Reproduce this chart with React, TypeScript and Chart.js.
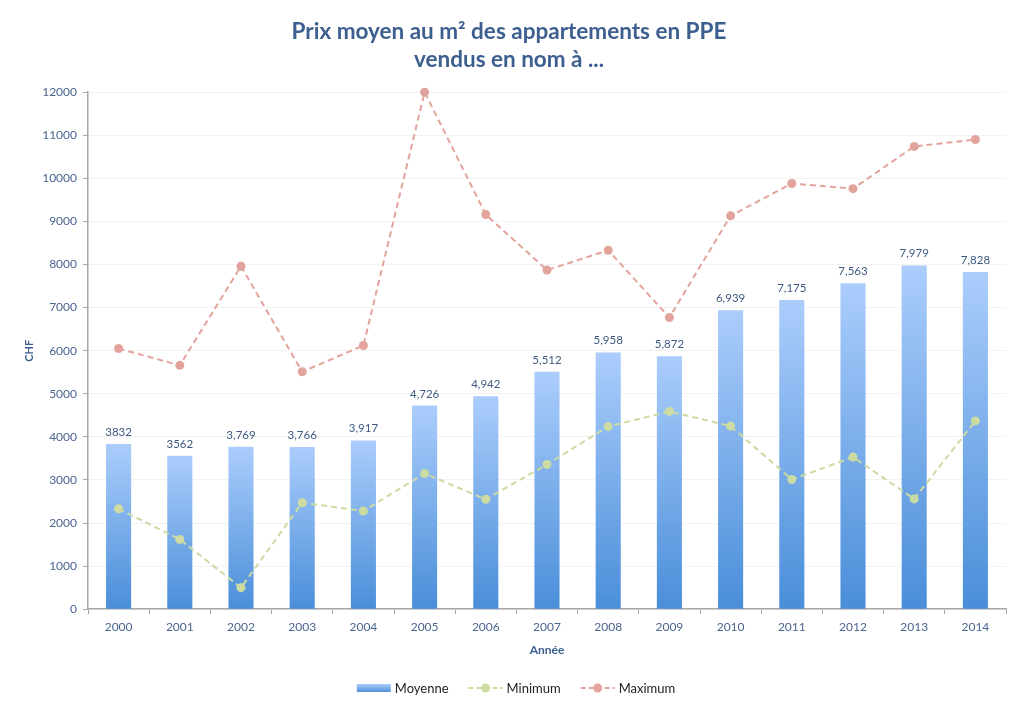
import { useEffect, useRef } from "react";
import { Chart, registerables } from "chart.js";

Chart.register(...registerables);

const years = ["2000", "2001", "2002", "2003", "2004", "2005", "2006", "2007", "2008", "2009", "2010", "2011", "2012", "2013", "2014"];
const moyenne = [3832, 3562, 3769, 3766, 3917, 4726, 4942, 5512, 5958, 5872, 6939, 7175, 7563, 7979, 7828];
const moyenneLabels = ["3832", "3562", "3,769", "3,766", "3,917", "4,726", "4,942", "5,512", "5,958", "5,872", "6,939", "7,175", "7,563", "7,979", "7,828"];
const minimum = [2330, 1620, 500, 2470, 2280, 3150, 2550, 3360, 4240, 4590, 4250, 3010, 3530, 2560, 4370];
const maximum = [6050, 5660, 7960, 5510, 6120, 12000, 9160, 7870, 8330, 6770, 9130, 9880, 9760, 10740, 10900];
const titleLines = ["Prix moyen au m² des appartements en PPE", "vendus en nom à ..."];

const FONT = "Lato, 'Open Sans', sans-serif";
const BLUE_TEXT = "#4a6590";
const MIN_COLOR = "#cbdba2";
const MAX_COLOR = "#e3a39d";

// value labels above the bars
const barLabels = {
  id: "barLabels",
  afterDatasetsDraw(chart: any) {
    const meta = chart.getDatasetMeta(2);
    const ctx = chart.ctx;
    ctx.save();
    ctx.font = "11.5px " + FONT;
    ctx.fillStyle = "#3d5a80";
    ctx.textAlign = "center";
    ctx.textBaseline = "bottom";
    meta.data.forEach((bar: any, i: number) => {
      ctx.fillText(moyenneLabels[i], bar.x, bar.y - 6);
    });
    ctx.restore();
  },
};

// legend drawn by hand: bar swatch, then two dashed lines with a dot
const bottomLegend = {
  id: "bottomLegend",
  afterDraw(chart: any) {
    const ctx = chart.ctx;
    const y = chart.height - 23;
    ctx.save();
    ctx.font = "13px " + FONT;
    ctx.textBaseline = "middle";
    const items = [
      { text: "Moyenne", kind: "bar", color: "" },
      { text: "Minimum", kind: "line", color: MIN_COLOR },
      { text: "Maximum", kind: "line", color: MAX_COLOR },
    ];
    const sym = 34;
    const gapIn = 4;
    const gapOut = 20;
    let total = 0;
    items.forEach((it, i) => {
      total += sym + gapIn + ctx.measureText(it.text).width + (i < items.length - 1 ? gapOut : 0);
    });
    let x = chart.width / 2 - total / 2 + 4;
    items.forEach((it) => {
      if (it.kind === "bar") {
        const g = ctx.createLinearGradient(0, y - 4, 0, y + 4);
        g.addColorStop(0, "#a9cbfa");
        g.addColorStop(1, "#4f92db");
        ctx.fillStyle = g;
        ctx.fillRect(x, y - 4, sym, 8);
      } else {
        ctx.strokeStyle = it.color;
        ctx.lineWidth = 2;
        ctx.setLineDash([5, 3]);
        ctx.beginPath();
        ctx.moveTo(x, y);
        ctx.lineTo(x + sym, y);
        ctx.stroke();
        ctx.setLineDash([]);
        ctx.fillStyle = it.color;
        ctx.beginPath();
        ctx.arc(x + sym / 2, y, 4.5, 0, Math.PI * 2);
        ctx.fill();
      }
      x += sym + gapIn;
      ctx.fillStyle = "#222222";
      ctx.fillText(it.text, x, y + 1);
      x += ctx.measureText(it.text).width + gapOut;
    });
    ctx.restore();
  },
};

function barGradient(context: any) {
  const chart = context.chart;
  const { chartArea, scales } = chart;
  if (!chartArea || !scales.y) return "#7aaee8";
  const v = moyenne[context.dataIndex] ?? 0;
  const top = scales.y.getPixelForValue(v);
  const bottom = scales.y.getPixelForValue(0);
  const g = chart.ctx.createLinearGradient(0, top, 0, bottom);
  g.addColorStop(0, "#abcdfc");
  g.addColorStop(1, "#4a8ed9");
  return g;
}

export default function App() {
  const canvasRef = useRef<HTMLCanvasElement | null>(null);
  const chartRef = useRef<Chart | null>(null);

  useEffect(() => {
    document.body.style.margin = "0";
    if (!canvasRef.current) return;
    if (chartRef.current) chartRef.current.destroy();

    chartRef.current = new Chart(canvasRef.current, {
      type: "bar",
      data: {
        labels: years,
        datasets: [
          {
            type: "line",
            label: "Minimum",
            data: minimum,
            borderColor: MIN_COLOR,
            backgroundColor: MIN_COLOR,
            borderWidth: 2,
            borderDash: [6, 4],
            pointRadius: 4.5,
            pointBorderWidth: 0,
            pointBackgroundColor: MIN_COLOR,
            tension: 0,
            clip: false,
          },
          {
            type: "line",
            label: "Maximum",
            data: maximum,
            borderColor: MAX_COLOR,
            backgroundColor: MAX_COLOR,
            borderWidth: 2,
            borderDash: [6, 4],
            pointRadius: 4.5,
            pointBorderWidth: 0,
            pointBackgroundColor: MAX_COLOR,
            tension: 0,
            clip: false,
          },
          {
            type: "bar",
            label: "Moyenne",
            data: moyenne,
            backgroundColor: barGradient,
            borderWidth: 0,
            categoryPercentage: 1,
            barPercentage: 0.41,
          },
        ],
      },
      options: {
        animation: false,
        responsive: true,
        maintainAspectRatio: false,
        layout: { padding: { left: 12, right: 18, top: 0, bottom: 54 } },
        plugins: {
          legend: { display: false },
          tooltip: { enabled: false },
          title: {
            display: true,
            text: titleLines,
            color: "#3c5f8f",
            font: { family: FONT, size: 22.5, weight: "bold", lineHeight: 1.27 },
            padding: { top: 17, bottom: 18 },
          },
        },
        scales: {
          x: {
            grid: {
              display: true,
              drawOnChartArea: false,
              drawTicks: true,
              tickLength: 5,
              offset: true,
              color: "#a8a8a8",
            },
            border: { color: "#a8a8a8", width: 1.5 },
            ticks: {
              color: BLUE_TEXT,
              font: { family: FONT, size: 12 },
              padding: 6,
            },
            title: {
              display: true,
              text: "Année",
              color: "#3c5f8f",
              font: { family: FONT, size: 12, weight: "bold" },
              padding: { top: 2, bottom: 0 },
            },
          },
          y: {
            min: 0,
            max: 12000,
            grid: {
              color: "#f2f2f2",
              tickLength: 5,
              tickColor: "#a8a8a8",
            },
            border: { color: "#a8a8a8", width: 1.5 },
            ticks: {
              stepSize: 1000,
              color: BLUE_TEXT,
              font: { family: FONT, size: 12 },
              padding: 6,
              callback: (v: any) => String(v),
            },
            title: {
              display: true,
              text: "CHF",
              color: "#3c5f8f",
              font: { family: FONT, size: 11, weight: "bold" },
              padding: { top: 11, bottom: 0 },
            },
          },
        },
      },
      plugins: [barLabels, bottomLegend],
    } as any);

    return () => {
      chartRef.current?.destroy();
      chartRef.current = null;
    };
  }, []);

  return (
    <div style={{ position: "absolute", left: 0, top: 0, width: 1024, height: 711, background: "#ffffff" }}>
      <canvas ref={canvasRef} />
    </div>
  );
}
